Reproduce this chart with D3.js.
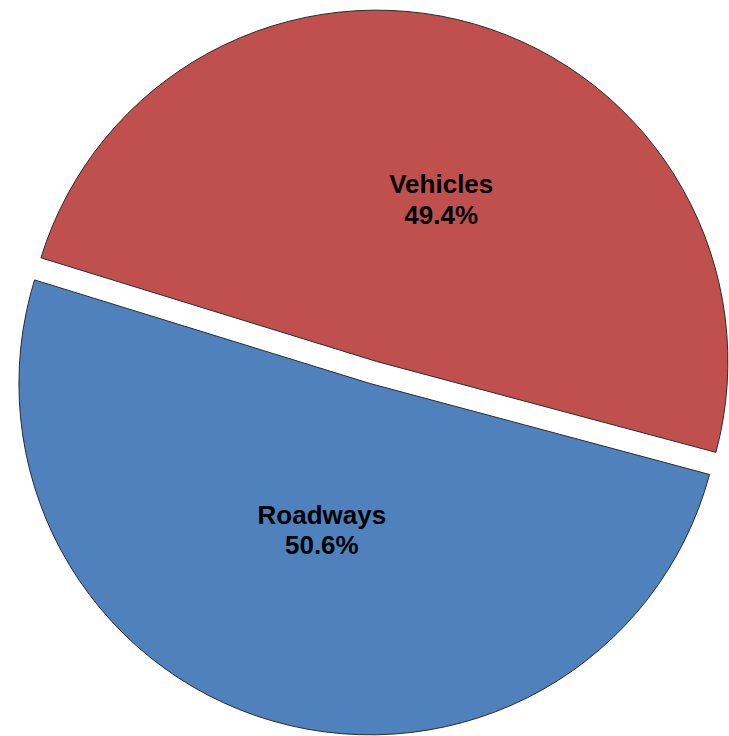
<!DOCTYPE html>
<html>
<head>
<meta charset="utf-8">
<script src="https://cdn.jsdelivr.net/npm/d3@7"></script>
<style>
  html, body { margin: 0; padding: 0; background: #fff; }
  svg { display: block; }
</style>
</head>
<body>
<svg id="chart" width="729" height="736"></svg>
<script>
// ---- data ----
const categories = ["Roadways", "Vehicles"];
const values = [50.6, 49.4];
const colors = ["#4F81BD", "#C0504D"];

// ---- layout ----
const W = 729, H = 736;
const cx = 373.4, cy = 372.5;
const R = 351.3;
const explode = 11.5;
const startDeg = 105;
// label placement (angle shift in degrees, radius fraction)
const labelShift = { "Roadways": 2.2, "Vehicles": 5.7 };
const labelRad = { "Roadways": 0.439, "Vehicles": 0.496 };

const data = categories.map((c, i) => ({ name: c, value: values[i], color: colors[i] }));

const svg = d3.select("#chart");
const pie = d3.pie()
  .value(d => d.value)
  .sort(null)
  .startAngle(startDeg * Math.PI / 180)
  .endAngle(startDeg * Math.PI / 180 + 2 * Math.PI);

const arc = d3.arc().innerRadius(0).outerRadius(R);
const arcs = pie(data);

const g = svg.append("g").attr("transform", `translate(${cx},${cy})`);

const slice = g.selectAll("g.slice")
  .data(arcs)
  .enter().append("g")
  .attr("class", "slice")
  .attr("transform", d => {
    const mid = (d.startAngle + d.endAngle) / 2;
    return `translate(${explode * Math.sin(mid)},${-explode * Math.cos(mid)})`;
  });

slice.append("path")
  .attr("d", arc)
  .attr("fill", d => d.data.color)
  .attr("stroke", "#2b2b2b")
  .attr("stroke-width", 1);

const total = d3.sum(values);
slice.each(function(d) {
  const mid = (d.startAngle + d.endAngle) / 2 + labelShift[d.data.name] * Math.PI / 180;
  const r = R * labelRad[d.data.name];
  const x = r * Math.sin(mid), y = -r * Math.cos(mid);
  const t = d3.select(this).append("text")
    .attr("text-anchor", "middle")
    .attr("font-family", "Liberation Sans, Arial, sans-serif")
    .attr("font-weight", "bold")
    .attr("font-size", 26)
    .attr("fill", "#000");
  t.append("tspan").attr("x", x).attr("y", y - 6.2).text(d.data.name);
  t.append("tspan").attr("x", x).attr("y", y + 24.5)
    .text((d.data.value / total * 100).toFixed(1) + "%");
});
</script>
</body>
</html>
